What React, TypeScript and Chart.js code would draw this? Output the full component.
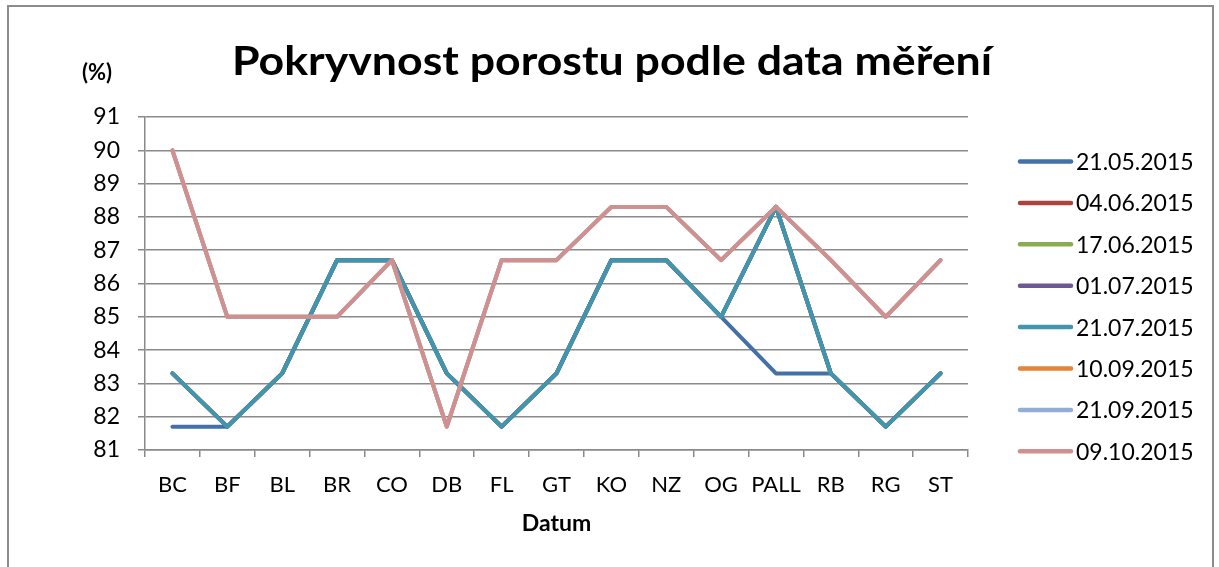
import React, { useEffect, useRef } from "react";
import { Chart, registerables } from "chart.js";

Chart.register(...registerables);

const categories = ["BC", "BF", "BL", "BR", "CO", "DB", "FL", "GT", "KO", "NZ", "OG", "PALL", "RB", "RG", "ST"];
const seriesLabels = ["21.05.2015", "04.06.2015", "17.06.2015", "01.07.2015", "21.07.2015", "10.09.2015", "21.09.2015", "09.10.2015"];
const seriesColors = ["#4470a8", "#ab4441", "#8aac50", "#6e5597", "#3f96ae", "#e3843b", "#93aed6", "#d09090"];

const s21_05 = [81.7, 81.7, 83.3, 86.7, 86.7, 83.3, 81.7, 83.3, 86.7, 86.7, 85, 83.3, 83.3, 81.7, 83.3];
const s04_06 = [83.3, 81.7, 83.3, 86.7, 86.7, 83.3, 81.7, 83.3, 86.7, 86.7, 85, 88.3, 83.3, 81.7, 83.3];
const s17_06 = [83.3, 81.7, 83.3, 86.7, 86.7, 83.3, 81.7, 83.3, 86.7, 86.7, 85, 88.3, 83.3, 81.7, 83.3];
const s01_07 = [83.3, 81.7, 83.3, 86.7, 86.7, 83.3, 81.7, 83.3, 86.7, 86.7, 85, 88.3, 83.3, 81.7, 83.3];
const s21_07 = [83.3, 81.7, 83.3, 86.7, 86.7, 83.3, 81.7, 83.3, 86.7, 86.7, 85, 88.3, 83.3, 81.7, 83.3];
const s10_09 = [90, 85, 85, 85, 86.7, 81.7, 86.7, 86.7, 88.3, 88.3, 86.7, 88.3, 86.7, 85, 86.7];
const s21_09 = [90, 85, 85, 85, 86.7, 81.7, 86.7, 86.7, 88.3, 88.3, 86.7, 88.3, 86.7, 85, 86.7];
const s09_10 = [90, 85, 85, 85, 86.7, 81.7, 86.7, 86.7, 88.3, 88.3, 86.7, 88.3, 86.7, 85, 86.7];
const seriesValues = [s21_05, s04_06, s17_06, s01_07, s21_07, s10_09, s21_09, s09_10];

const yMin = 81;
const yMax = 91;
const yStep = 1;

const titleText = "Pokryvnost porostu podle data měření";
const yUnitText = "(%)";
const xTitleText = "Datum";

const FONT = "Lato, 'Open Sans', sans-serif";
const GRID = "#8a8a8a";

const decorPlugin = {
  id: "decor",
  afterDraw(chart: any) {
    const ctx = chart.ctx;
    const area = chart.chartArea;
    ctx.save();
    // frame
    ctx.strokeStyle = "#8c8c8c";
    ctx.lineWidth = 2;
    ctx.strokeRect(8, 6, 1205, 700);

    ctx.fillStyle = "#000";
    // title
    ctx.font = `bold 41px ${FONT}`;
    ctx.textBaseline = "alphabetic";
    ctx.textAlign = "left";
    const tw = ctx.measureText(titleText).width;
    const targetW = 760;
    ctx.save();
    ctx.translate(232, 75);
    ctx.scale(targetW / tw, 1);
    ctx.fillText(titleText, 0, 0);
    ctx.restore();

    // y unit
    ctx.font = `bold 22px ${FONT}`;
    ctx.textBaseline = "middle";
    ctx.textAlign = "center";
    ctx.fillText(yUnitText, 97, 73);

    // x title
    ctx.font = `bold 23px ${FONT}`;
    ctx.fillText(xTitleText, (area.left + area.right) / 2, 524);

    // legend
    const ds = chart.data.datasets;
    ctx.font = `23px ${FONT}`;
    ctx.textAlign = "left";
    ds.forEach((d: any, i: number) => {
      const y = 161.5 + i * 41.4;
      ctx.strokeStyle = d.borderColor;
      ctx.lineWidth = 4.5;
      ctx.lineCap = "round";
      ctx.beginPath();
      ctx.moveTo(1020, y);
      ctx.lineTo(1071, y);
      ctx.stroke();
      ctx.fillStyle = "#000";
      ctx.fillText(d.label, 1076, y + 1);
    });
    ctx.restore();
  },
};

export default function App() {
  const ref = useRef<HTMLCanvasElement>(null);
  useEffect(() => {
    if (!ref.current) return;
    const chart = new Chart(ref.current, {
      type: "line",
      data: {
        labels: categories,
        datasets: seriesValues.map((vals, i) => ({
          label: seriesLabels[i],
          data: vals,
          borderColor: seriesColors[i],
          backgroundColor: seriesColors[i],
          borderWidth: 4,
          borderCapStyle: "round" as const,
          borderJoinStyle: "round" as const,
          pointRadius: 0,
          tension: 0,
          fill: false,
          order: seriesValues.length - i,
        })),
      },
      options: {
        animation: false,
        responsive: false,
        maintainAspectRatio: false,
        layout: { padding: { left: 0, top: 117, right: 251, bottom: 0 } },
        plugins: {
          legend: { display: false },
          title: { display: false },
          tooltip: { enabled: false },
        },
        scales: {
          x: {
            type: "category",
            offset: true,
            afterFit: (s: any) => { s.height = 117; },
            grid: {
              offset: true,
              drawOnChartArea: false,
              drawTicks: true,
              tickLength: 7,
              color: GRID,
              lineWidth: 1.5,
            },
            border: { display: true, color: GRID, width: 1.5 },
            ticks: {
              color: "#000",
              font: { family: FONT, size: 22 },
              padding: 15,
              maxRotation: 0,
              autoSkip: false,
            },
          },
          y: {
            min: yMin,
            max: yMax,
            afterFit: (s: any) => { s.width = 145; },
            grid: {
              color: GRID,
              lineWidth: 1.5,
              tickLength: 7,
              drawTicks: true,
            },
            border: { display: true, color: GRID, width: 1.5 },
            ticks: {
              stepSize: yStep,
              color: "#000",
              font: { family: FONT, size: 23 },
              padding: 18,
            },
          },
        },
      },
      plugins: [decorPlugin],
    });
    return () => chart.destroy();
  }, []);
  return (
    <div style={{ position: "absolute", left: 0, top: 0, width: 1219, height: 567, background: "#fff" }}>
      <canvas ref={ref} width={1219} height={567} style={{ display: "block" }} />
    </div>
  );
}
